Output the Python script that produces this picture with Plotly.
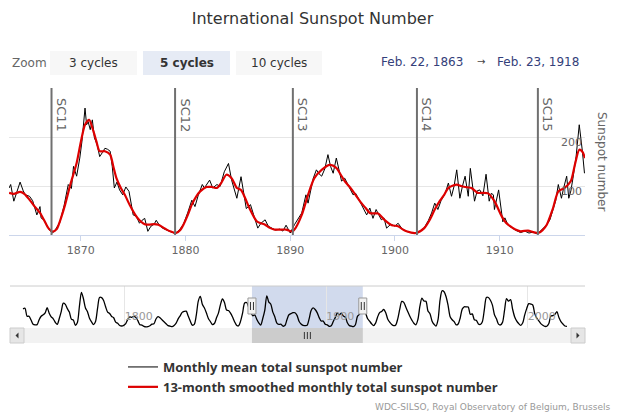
import plotly.graph_objects as go

# ---------------- data ----------------
monthly_t = [1863.15, 1863.3, 1863.6, 1863.9, 1864.2, 1864.5, 1864.7, 1865.1, 1865.4, 1865.8,
             1866.1, 1866.2, 1866.5, 1866.8, 1867.0, 1867.3, 1867.6, 1868.0, 1868.4, 1868.8,
             1869.1, 1869.3, 1869.6, 1869.9, 1870.1, 1870.4, 1870.55, 1870.7, 1870.9, 1871.1,
             1871.3, 1871.55, 1871.8, 1872.05, 1872.3, 1872.55, 1872.8, 1873.0, 1873.2, 1873.45,
             1873.7, 1874.0, 1874.3, 1874.6, 1874.8, 1875.0, 1875.3, 1875.6, 1875.85, 1876.1,
             1876.4, 1876.7, 1877.0, 1877.2, 1877.5, 1877.8, 1878.2, 1878.6, 1879.0, 1879.4,
             1879.8, 1880.2, 1880.6, 1880.9, 1881.2, 1881.6, 1881.8, 1882.3, 1882.6, 1883.0,
             1883.3, 1883.7, 1884.1, 1884.4, 1884.9, 1885.3, 1885.8, 1886.2, 1886.6, 1886.9,
             1887.2, 1887.6, 1887.9, 1888.2, 1888.6, 1889.0, 1889.3, 1889.6, 1890.0, 1890.4,
             1890.8, 1891.1, 1891.5, 1891.7, 1892.2, 1892.5, 1892.75, 1893.0, 1893.3, 1893.6,
             1893.85, 1894.1, 1894.4, 1894.65, 1894.9, 1895.2, 1895.5, 1895.75, 1896.0, 1896.25,
             1896.5, 1896.9, 1897.3, 1897.6, 1897.9, 1898.2, 1898.45, 1898.7, 1898.95, 1899.2,
             1899.6, 1900.0, 1900.3, 1900.7, 1901.1, 1901.5, 1902.0, 1902.4, 1902.8, 1903.2,
             1903.5, 1903.8, 1904.1, 1904.4, 1904.8, 1905.1, 1905.4, 1905.65, 1905.9, 1906.2,
             1906.45, 1906.7, 1907.0, 1907.2, 1907.6, 1907.85, 1908.1, 1908.4, 1908.7, 1909.0,
             1909.2, 1909.4, 1909.5, 1909.9, 1910.3, 1910.5, 1910.8, 1911.1, 1911.5, 1912.0,
             1912.4, 1912.8, 1913.2, 1913.6, 1914.0, 1914.3, 1914.5, 1914.8, 1915.1, 1915.35,
             1915.6, 1915.9, 1916.1, 1916.4, 1916.6, 1916.8, 1917.0, 1917.3, 1917.6, 1917.75,
             1917.9, 1918.1]
monthly_v = [96, 103, 69, 90, 108, 90, 82, 79, 70, 41,
             58, 35, 30, 18, 10, 4, 12, 26, 60, 103,
             95, 140, 120, 157, 190, 259, 225, 231, 215, 235,
             198, 185, 160, 168, 177, 175, 171, 140, 96, 108,
             92, 82, 98, 89, 62, 41, 38, 24, 30, 34,
             7.5, 18, 22, 30, 20, 14, 10, 6, 3, 10,
             22, 45, 71, 58, 80, 103, 96, 112, 96, 103,
             99, 129, 146, 112, 75, 119, 54, 62, 35, 14,
             24, 31, 18, 15, 10, 12, 8, 20, 4, 21,
             35, 45, 82, 65, 116, 133, 125, 120, 135, 164,
             140, 126, 157, 130, 110, 116, 103, 95, 82, 85,
             75, 60, 41, 55, 34, 52, 40, 31, 35, 14,
             22, 18, 24, 12, 7.5, 5, 4, 8, 15, 30,
             45, 65, 52, 70, 85, 106, 79, 100, 133, 75,
             100, 120, 79, 136, 69, 90, 92, 80, 124, 69,
             85, 82, 52, 92, 27, 35, 20, 15, 10, 5,
             8, 4, 6, 2, 10, 16, 21, 31, 50, 70,
             103, 75, 95, 120, 75, 90, 116, 160, 225, 190,
             171, 126]

smooth_t = [1863.15, 1863.6, 1864.2, 1864.6, 1865.1, 1865.6, 1866.1, 1866.5, 1866.9, 1867.3,
            1867.7, 1868.0, 1868.5, 1869.0, 1869.6, 1870.0, 1870.4, 1870.8, 1871.2, 1871.5,
            1871.8, 1872.3, 1872.8, 1873.1, 1873.4, 1873.8, 1874.2, 1874.7, 1875.2, 1875.6,
            1876.1, 1876.5, 1877.0, 1877.4, 1877.8, 1878.2, 1878.6, 1879.1, 1879.5, 1879.8,
            1880.2, 1880.6, 1881.0, 1881.4, 1882.0, 1882.5, 1883.0, 1883.4, 1883.9, 1884.4,
            1884.9, 1885.3, 1885.7, 1886.1, 1886.8, 1887.2, 1887.6, 1888.0, 1888.5, 1889.0,
            1889.6, 1890.2, 1890.5, 1891.1, 1891.7, 1892.3, 1893.0, 1893.8, 1894.4, 1894.8,
            1895.2, 1895.6, 1896.0, 1896.8, 1897.2, 1897.6, 1898.0, 1898.4, 1899.0, 1899.7,
            1900.3, 1900.7, 1901.1, 1902.0, 1902.8, 1903.3, 1903.8, 1904.3, 1904.7, 1905.1,
            1905.9, 1906.3, 1906.7, 1907.3, 1907.9, 1908.4, 1908.9, 1909.5, 1910.2, 1910.6,
            1911.0, 1911.5, 1912.0, 1912.7, 1913.2, 1913.7, 1914.1, 1914.5, 1915.1, 1915.6,
            1916.2, 1916.8, 1917.2, 1917.6, 1917.9, 1918.15]
smooth_v = [86, 84, 88, 84, 72, 58, 45, 30, 14, 7,
            12, 28, 62, 103, 147, 190, 225, 235, 212, 190,
            171, 171, 164, 140, 116, 97, 82, 60, 41, 30,
            22, 21, 22, 21, 16, 11, 7, 4, 10, 21,
            40, 62, 78, 89, 98, 98, 96, 106, 123, 116,
            96, 92, 75, 55, 28, 24, 21, 15, 11, 11,
            11, 7, 14, 41, 82, 116, 133, 143, 137, 124,
            110, 100, 89, 65, 55, 45, 44, 44, 31, 20,
            18, 12, 7.5, 4, 14, 30, 52, 70, 82, 96,
            103, 100, 98, 96, 86, 86, 85, 69, 38, 25,
            18, 11, 7.5, 9, 6, 4, 10, 21, 55, 89,
            96, 110, 145, 174, 170, 157]

cycle_names = ["SC11", "SC12", "SC13", "SC14", "SC15"]
cycle_starts = [1867.2, 1879.0, 1890.25, 1902.1, 1913.65]

nav_years = list(range(1749, 2020))
nav_values = [134.7, 139.0, 79.5, 79.7, 51.2, 20.3, 16.0, 17.0, 54.0, 79.3,
              90.0, 104.8, 143.2, 102.0, 75.2, 60.7, 34.8, 19.0, 63.0, 116.3,
              176.8, 168.0, 136.0, 110.8, 58.0, 51.0, 11.7, 33.0, 154.2, 257.3,
              209.8, 141.3, 113.5, 64.2, 38.0, 17.0, 40.2, 138.2, 220.0, 218.2,
              196.8, 149.8, 111.0, 100.0, 78.2, 68.3, 35.5, 26.7, 10.7, 6.8,
              11.3, 24.2, 56.7, 75.0, 71.8, 79.2, 70.3, 46.8, 16.8, 13.5,
              4.2, 0.0, 2.3, 8.3, 20.3, 23.2, 59.0, 76.3, 68.3, 52.9,
              38.5, 24.2, 9.2, 6.3, 2.2, 11.4, 28.2, 59.9, 83.0, 108.5,
              115.2, 117.4, 80.8, 44.3, 13.4, 19.5, 85.8, 192.7, 227.3, 168.7,
              143.0, 105.5, 63.3, 40.3, 18.1, 25.1, 65.8, 102.7, 166.3, 208.3,
              182.5, 126.3, 122.0, 102.7, 74.1, 39.0, 12.7, 8.2, 43.4, 104.4,
              178.3, 182.2, 146.6, 112.1, 83.5, 89.2, 57.8, 30.7, 13.9, 62.8,
              123.6, 232.0, 185.3, 169.2, 110.1, 74.5, 28.3, 18.9, 20.7, 5.7,
              10.0, 53.7, 90.5, 99.0, 106.1, 105.8, 86.3, 42.4, 21.8, 11.2,
              10.4, 11.8, 59.5, 121.7, 142.0, 130.0, 106.6, 69.4, 43.8, 44.4,
              20.2, 15.7, 4.6, 8.5, 40.8, 70.1, 105.5, 90.1, 102.8, 80.9,
              73.2, 30.9, 9.5, 6.0, 2.4, 16.1, 79.0, 95.0, 173.6, 134.6,
              105.7, 62.7, 43.5, 23.7, 9.7, 27.9, 74.0, 106.5, 114.7, 129.7,
              108.2, 59.4, 35.1, 18.6, 9.2, 14.6, 60.2, 132.8, 190.6, 182.6,
              148.0, 113.0, 79.2, 50.8, 27.1, 16.1, 55.3, 154.3, 214.7, 193.0,
              190.7, 118.9, 98.3, 45.0, 20.1, 6.6, 54.2, 200.7, 269.3, 261.7,
              225.1, 159.0, 76.4, 53.4, 39.9, 15.0, 22.0, 66.8, 132.9, 150.0,
              149.4, 148.0, 94.4, 97.6, 54.1, 49.2, 22.5, 18.4, 39.3, 131.0,
              220.1, 218.9, 198.9, 162.4, 91.0, 60.5, 20.6, 14.8, 33.9, 123.0,
              211.1, 191.8, 203.3, 133.0, 76.1, 44.9, 25.1, 11.6, 28.9, 88.3,
              136.3, 173.9, 170.4, 163.6, 99.3, 65.3, 45.8, 24.7, 12.6, 4.2,
              4.8, 24.9, 80.8, 84.5, 94.0, 113.3, 69.8, 39.8, 21.7, 7.0,
              3.6]

view_start = 1863.14
view_end = 1918.15
main_xticks = [1870, 1880, 1890, 1900, 1910]
main_yticks = [0, 100, 200, 300]
main_yticktext = ["0", "100", "200", ""]
nav_xticks = [1800, 1900, 2000]
buttons = ["3 cycles", "5 cycles", "10 cycles"]
selected_button = 1
date_from = "Feb. 22, 1863"
date_to = "Feb. 23, 1918"

# ---------------- figure ----------------
W, H = 625, 417
FONT = "DejaVu Sans"


def fx(p):
    return p / W


def fy(p):
    return 1 - p / H


fig = go.Figure()
fig.add_trace(go.Scatter(x=monthly_t, y=monthly_v, mode="lines",
                         line=dict(color="#000000", width=1),
                         name="Monthly mean total sunspot number",
                         xaxis="x", yaxis="y"))
fig.add_trace(go.Scatter(x=smooth_t, y=smooth_v, mode="lines",
                         line=dict(color="#dd0000", width=2.2, shape="spline", smoothing=0.7),
                         name="13-month smoothed monthly total sunspot number",
                         xaxis="x", yaxis="y"))
fig.add_trace(go.Scatter(x=[y + 0.5 for y in nav_years], y=nav_values, mode="lines",
                         line=dict(color="#000000", width=1.3, shape="spline", smoothing=0.8),
                         showlegend=False, hoverinfo="skip", xaxis="x2", yaxis="y2"))

shapes = []
annotations = []

# cycle separators
for name, start in zip(cycle_names, cycle_starts):
    shapes.append(dict(type="line", xref="x", yref="y domain", x0=start, x1=start,
                       y0=0, y1=1, line=dict(color="#707070", width=2)))
    annotations.append(dict(text=name, x=start, xref="x", y=1, yref="y domain",
                            xanchor="left", yanchor="top", xshift=1, yshift=-8,
                            textangle=90, showarrow=False,
                            font=dict(family=FONT, size=13, color="#666666")))

# navigator chrome
NT, NB = 286, 328
shapes.append(dict(type="line", xref="paper", yref="paper", x0=fx(10), x1=fx(585),
                   y0=fy(NT), y1=fy(NT), line=dict(color="#cccccc", width=1)))
shapes.append(dict(type="rect", xref="x2", yref="paper", x0=view_start, x1=view_end,
                   y0=fy(NB), y1=fy(NT), fillcolor="rgba(102,133,194,0.3)",
                   line=dict(width=0), layer="below"))
# scrollbar
SB0, SB1 = 328, 343
shapes.append(dict(type="rect", xref="paper", yref="paper", x0=fx(10), x1=fx(585),
                   y0=fy(SB1), y1=fy(SB0), fillcolor="#f2f2f2", line=dict(width=0), layer="below"))
shapes.append(dict(type="rect", xref="x2", yref="paper", x0=view_start, x1=view_end,
                   y0=fy(SB1), y1=fy(SB0), fillcolor="#cccccc", line=dict(width=0)))
mid = (view_start + view_end) / 2
for off in (-3, 0, 3):
    shapes.append(dict(type="line", xref="x2", yref="paper", xsizemode="pixel", xanchor=mid,
                       x0=off, x1=off, y0=fy(339), y1=fy(332),
                       line=dict(color="#333333", width=1)))
for bx0, bx1, tri in ((10, 24, "left"), (571, 585, "right")):
    shapes.append(dict(type="rect", xref="paper", yref="paper", x0=fx(bx0), x1=fx(bx1),
                       y0=fy(SB1), y1=fy(SB0), fillcolor="#e6e6e6",
                       line=dict(color="#cccccc", width=1)))
    cx = (bx0 + bx1) / 2
    cy = (SB0 + SB1) / 2
    if tri == "left":
        pts = [(cx + 1.5, cy - 3), (cx + 1.5, cy + 3), (cx - 1.5, cy)]
    else:
        pts = [(cx - 1.5, cy - 3), (cx - 1.5, cy + 3), (cx + 1.5, cy)]
    path = "M " + " L ".join(f"{fx(a)},{fy(b)}" for a, b in pts) + " Z"
    shapes.append(dict(type="path", xref="paper", yref="paper", path=path,
                       fillcolor="#333333", line=dict(width=0)))
# navigator handles
for hx in (view_start, view_end):
    shapes.append(dict(type="rect", xref="x2", yref="paper", xsizemode="pixel", xanchor=hx,
                       x0=-4, x1=4, y0=fy(314), y1=fy(298), fillcolor="#f2f2f2",
                       line=dict(color="#999999", width=1)))
    for off in (-1.5, 1.5):
        shapes.append(dict(type="line", xref="x2", yref="paper", xsizemode="pixel", xanchor=hx,
                           x0=off, x1=off, y0=fy(310), y1=fy(302),
                           line=dict(color="#333333", width=1)))

# range selector buttons
annotations.append(dict(text="Zoom", x=fx(10), y=fy(63), xref="paper", yref="paper",
                        xanchor="left", yanchor="middle", showarrow=False,
                        font=dict(family=FONT, size=12, color="#666666")))
btn_x = [(50, 137), (143, 230), (236, 322)]
for i, (label, (b0, b1)) in enumerate(zip(buttons, btn_x)):
    sel = i == selected_button
    shapes.append(dict(type="rect", xref="paper", yref="paper", x0=fx(b0), x1=fx(b1),
                       y0=fy(75), y1=fy(51), fillcolor="#e6ebf5" if sel else "#f7f7f7",
                       line=dict(width=0)))
    annotations.append(dict(text=label, x=fx((b0 + b1) / 2), y=fy(63), xref="paper",
                            yref="paper", xanchor="center", yanchor="middle", showarrow=False,
                            font=dict(family=FONT, size=12, color="#333333",
                                      weight="bold" if sel else "normal")))
DATE_COLOR = "#34407a"
annotations.append(dict(text=date_from, x=fx(422), y=fy(62), xref="paper", yref="paper",
                        xanchor="center", yanchor="middle", showarrow=False,
                        font=dict(family=FONT, size=12, color=DATE_COLOR)))
annotations.append(dict(text="\u2192", x=fx(481), y=fy(62), xref="paper", yref="paper",
                        xanchor="center", yanchor="middle", showarrow=False,
                        font=dict(family=FONT, size=10, color="#444444")))
annotations.append(dict(text=date_to, x=fx(538), y=fy(62), xref="paper", yref="paper",
                        xanchor="center", yanchor="middle", showarrow=False,
                        font=dict(family=FONT, size=12, color=DATE_COLOR)))

# y-axis title (reads top to bottom)
annotations.append(dict(text="Sunspot number", x=fx(602), y=fy(161), xref="paper", yref="paper",
                        xanchor="center", yanchor="middle", textangle=90, showarrow=False,
                        font=dict(family=FONT, size=12, color="#666666")))
# credits
annotations.append(dict(text="WDC-SILSO, Royal Observatory of Belgium, Brussels",
                        x=fx(612), y=fy(407), xref="paper", yref="paper",
                        xanchor="right", yanchor="middle", showarrow=False,
                        font=dict(family=FONT, size=9, color="#999999")))

fig.update_layout(
    width=W, height=H,
    margin=dict(l=0, r=0, t=0, b=0),
    paper_bgcolor="white", plot_bgcolor="white",
    font=dict(family=FONT),
    title=dict(text="International Sunspot Number", x=0.5, xanchor="center",
               y=fy(18), yanchor="middle", yref="paper",
               font=dict(family=FONT, size=16, color="#333333")),
    xaxis=dict(domain=[fx(9), fx(585)], range=[view_start, view_end], anchor="y",
               tickvals=main_xticks, showgrid=False, zeroline=False,
               showline=True, linecolor="#ccd6eb", linewidth=1,
               ticks="outside", ticklen=5, tickcolor="#ccd6eb",
               tickfont=dict(family=FONT, size=11, color="#666666"), fixedrange=True),
    yaxis=dict(domain=[fy(235), fy(88)], range=[0, 300], anchor="x", side="right",
               tickvals=main_yticks, ticktext=main_yticktext, ticklabelposition="inside",
               ticklabelshift=5, gridcolor="#e6e6e6", zeroline=False, showline=False,
               tickfont=dict(family=FONT, size=11, color="#666666"), fixedrange=True),
    xaxis2=dict(domain=[fx(22), fx(570)], range=[1749, 2021], anchor="y2",
                tickvals=nav_xticks, ticklabelposition="inside right", ticks="",
                showgrid=True, gridcolor="#e6e6e6", zeroline=False, showline=False,
                tickfont=dict(family=FONT, size=11, color="#999999"), fixedrange=True),
    yaxis2=dict(domain=[fy(NB), fy(NT)], range=[-8, 305], anchor="x2", visible=False,
                fixedrange=True),
    shapes=shapes,
    annotations=annotations,
    showlegend=True,
    legend=dict(x=fx(123), y=fy(352), xanchor="left", yanchor="top",
                orientation="v", itemwidth=30, bgcolor="rgba(0,0,0,0)", tracegroupgap=0,
                font=dict(family="Open Sans", size=13, color="#333333", weight="bold")),
)

fig.write_html("out.html")
